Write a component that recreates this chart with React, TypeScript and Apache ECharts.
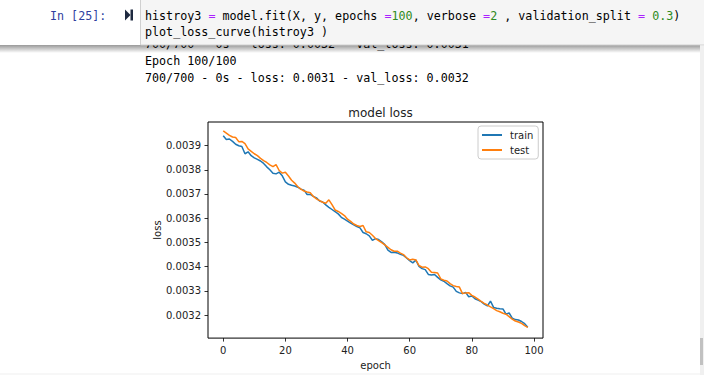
import React, { useEffect, useRef } from "react";
import * as echarts from "echarts";

const trainLoss = [
  0.00394, 0.003925, 0.003927, 0.003917, 0.003905, 0.003899, 0.003896, 0.003866, 0.003874, 0.003858,
  0.003849, 0.003843, 0.003836, 0.003826, 0.003812, 0.0038, 0.003786, 0.003783, 0.00379, 0.003775,
  0.00375, 0.00374, 0.003736, 0.003733, 0.003728, 0.00372, 0.003716, 0.003698, 0.003698, 0.00369,
  0.003684, 0.003671, 0.003667, 0.003655, 0.003645, 0.003636, 0.003627, 0.003618, 0.003604, 0.003596,
  0.003588, 0.00358, 0.003573, 0.003566, 0.00356, 0.003541, 0.003536, 0.003527, 0.003509, 0.003516,
  0.003512, 0.003503, 0.003491, 0.003468, 0.003459, 0.00346, 0.003457, 0.003451, 0.003447, 0.003436,
  0.003425, 0.003416, 0.003427, 0.003401, 0.003392, 0.003388, 0.003368, 0.003366, 0.003368, 0.003356,
  0.003346, 0.00334, 0.00333, 0.003321, 0.003316, 0.003298, 0.003292, 0.003289, 0.003294, 0.003276,
  0.003279, 0.003268, 0.003262, 0.003256, 0.003246, 0.003238, 0.003258, 0.003232, 0.003229, 0.003227,
  0.003226, 0.003204, 0.003209, 0.003188, 0.003182, 0.00318, 0.003174, 0.003165, 0.00315,
];

const testLoss = [
  0.00396, 0.003951, 0.003942, 0.003935, 0.003933, 0.003916, 0.003917, 0.003908, 0.003886, 0.003876,
  0.003866, 0.003858, 0.003847, 0.003838, 0.00383, 0.00382, 0.003813, 0.003821, 0.003797, 0.003786,
  0.00379, 0.003774, 0.003757, 0.003745, 0.00373, 0.00372, 0.003712, 0.003708, 0.003705, 0.00369,
  0.00368, 0.003673, 0.003666, 0.003662, 0.003676, 0.003656, 0.003634, 0.003628, 0.00362, 0.003611,
  0.003596, 0.003587, 0.003576, 0.00357, 0.003566, 0.00357, 0.003544, 0.003541, 0.00353, 0.003516,
  0.003508, 0.003499, 0.00349, 0.00348, 0.00347, 0.003464, 0.003464, 0.003456, 0.00345, 0.003437,
  0.003428, 0.003431, 0.003428, 0.003405, 0.003398, 0.003399, 0.003392, 0.003377, 0.003376, 0.003374,
  0.00335, 0.003344, 0.003341, 0.00333, 0.003322, 0.003318, 0.003316, 0.003289, 0.003292, 0.003293,
  0.003282, 0.003275, 0.003266, 0.003257, 0.003249, 0.003242, 0.003234, 0.003227, 0.003219, 0.003214,
  0.003208, 0.003204, 0.003194, 0.003184, 0.003176, 0.003172, 0.003166, 0.003157, 0.00315,
];

const xTicks = [0, 20, 40, 60, 80, 100];
const yTicks = [0.0032, 0.0033, 0.0034, 0.0035, 0.0036, 0.0037, 0.0038, 0.0039];
const seriesNames = ["train", "test"];
const seriesColors = ["#1f77b4", "#ff7f0e"];

const codeLine1 =
  "histroy3 {o|=} model.fit(X, y, epochs {o|=}{n|100}, verbose {o|=}{n|2} , validation_split {o|=} {n|0.3})";
const codeLine2 = "plot_loss_curve(histroy3 )";
const hiddenLine = "700/700 - 0s - loss: 0.0032 - val_loss: 0.0031";
const outLine1 = "Epoch 100/100";
const outLine2 = "700/700 - 0s - loss: 0.0031 - val_loss: 0.0032";
const promptText = "In [25]:";

const MONO = "DejaVu Sans Mono";
const SANS = "DejaVu Sans";
const FS = 13;
const SX = 7.04 / (0.602 * FS);

function monoText(text: string, x: number, y: number, color: string, z: number, rich?: any) {
  return {
    type: "text",
    x,
    y,
    scaleX: SX,
    z,
    style: {
      text,
      fill: color,
      fontFamily: MONO,
      fontSize: FS,
      verticalAlign: "middle",
      align: "left",
      rich,
    },
  };
}

export default function App() {
  const ref = useRef<HTMLDivElement>(null);
  useEffect(() => {
    if (!ref.current) return;
    const chart = echarts.init(ref.current, undefined, { renderer: "svg" });
    const richCode = {
      o: { fill: "#AA22FF", fontFamily: MONO, fontSize: FS },
      n: { fill: "#2e8b22", fontFamily: MONO, fontSize: FS },
    };
    const option: any = {
      animation: false,
      backgroundColor: "#ffffff",
      title: {
        text: "model loss",
        left: 375.5,
        top: 102,
        textAlign: "center",
        textStyle: { fontFamily: SANS, fontSize: 12, fontWeight: "normal", color: "#222" },
      },
      legend: {
        data: seriesNames,
        orient: "vertical",
        left: 478,
        top: 126,
        padding: [3, 5, 3, 4],
        itemGap: 3,
        itemWidth: 20,
        itemHeight: 2,
        icon: "rect",
        borderColor: "#cccccc",
        borderWidth: 1,
        borderRadius: 3,
        backgroundColor: "rgba(255,255,255,0.8)",
        textStyle: {
          fontFamily: SANS,
          fontSize: 10,
          color: "#222",
          lineHeight: 12,
          padding: [0, 0, 0, 3],
        },
      },
      grid: {
        left: 208,
        top: 122,
        width: 335,
        height: 217,
        show: true,
        borderColor: "#000",
        borderWidth: 1,
        backgroundColor: "#fff",
        containLabel: false,
      },
      xAxis: {
        type: "value",
        min: -4.9,
        max: 102.9,
        position: "bottom",
        name: "epoch",
        nameLocation: "middle",
        nameGap: 20,
        nameTextStyle: { fontFamily: SANS, fontSize: 10, color: "#222", verticalAlign: "top" },
        axisLine: { show: false, onZero: false },
        splitLine: { show: false },
        axisTick: {
          show: true,
          inside: false,
          customValues: xTicks,
          length: 3.5,
          lineStyle: { color: "#000", width: 0.8 },
        },
        axisLabel: {
          customValues: xTicks,
          fontFamily: SANS,
          fontSize: 10,
          color: "#222",
          margin: 7,
          formatter: (v: number) => String(Math.round(v)),
        },
      },
      yAxis: {
        type: "value",
        min: 0.0031055,
        max: 0.003997,
        position: "left",
        name: "loss",
        nameLocation: "middle",
        nameGap: 46,
        nameTextStyle: { fontFamily: SANS, fontSize: 10, color: "#222" },
        axisLine: { show: false, onZero: false },
        splitLine: { show: false },
        axisTick: {
          show: true,
          inside: false,
          customValues: yTicks,
          length: 3.5,
          lineStyle: { color: "#000", width: 0.8 },
        },
        axisLabel: {
          customValues: yTicks,
          fontFamily: SANS,
          fontSize: 10,
          color: "#222",
          margin: 7,
          formatter: (v: number) => v.toFixed(4),
        },
      },
      series: [
        {
          name: seriesNames[0],
          type: "line",
          data: trainLoss.map((v, i) => [i, v]),
          showSymbol: false,
          symbol: "none",
          color: seriesColors[0],
          lineStyle: { width: 1.5, color: seriesColors[0] },
          z: 3,
        },
        {
          name: seriesNames[1],
          type: "line",
          data: testLoss.map((v, i) => [i, v]),
          showSymbol: false,
          symbol: "none",
          color: seriesColors[1],
          lineStyle: { width: 1.5, color: seriesColors[1] },
          z: 4,
        },
      ],
      graphic: [
        monoText(hiddenLine, 145, 43.5, "#000", 5),
        {
          type: "rect",
          z: 10,
          shape: { x: 0, y: 45, width: 700, height: 8 },
          style: {
            fill: new echarts.graphic.LinearGradient(0, 0, 0, 1, [
              { offset: 0, color: "rgba(0,0,0,0.4)" },
              { offset: 1, color: "rgba(0,0,0,0)" },
            ]),
          },
        },
        {
          type: "rect",
          z: 20,
          shape: { x: 140.5, y: -2, width: 580, height: 47 },
          style: { fill: "#f5f5f5", stroke: "#d0d0d0", lineWidth: 1 },
        },
        monoText(codeLine1, 145, 15.5, "#000", 21, richCode),
        monoText(codeLine2, 145, 31.5, "#000", 21),
        monoText(promptText, 50, 15.5, "#303F9F", 21),
        {
          type: "polygon",
          z: 21,
          shape: { points: [[125, 9.5], [130.5, 15], [125, 20.5]] },
          style: { fill: "#1e2a40" },
        },
        {
          type: "rect",
          z: 21,
          shape: { x: 130.5, y: 9.5, width: 2.5, height: 11 },
          style: { fill: "#1e2a40" },
        },
        monoText(outLine1, 145, 61, "#000", 5),
        monoText(outLine2, 145, 77.5, "#000", 5),
        {
          type: "rect",
          z: 5,
          shape: { x: 700, y: 46, width: 4, height: 329 },
          style: { fill: "#f0f0f0" },
        },
        {
          type: "rect",
          z: 6,
          shape: { x: 700, y: 338, width: 3, height: 27 },
          style: { fill: "#c1c1c1" },
        },
        {
          type: "rect",
          z: 5,
          shape: { x: 0, y: 373, width: 700, height: 2 },
          style: { fill: "#f7f7f7" },
        },
      ],
    };
    chart.setOption(option);
    return () => chart.dispose();
  }, []);
  return (
    <div
      ref={ref}
      style={{ position: "fixed", left: 0, top: 0, width: 704, height: 375, background: "#fff" }}
    />
  );
}
